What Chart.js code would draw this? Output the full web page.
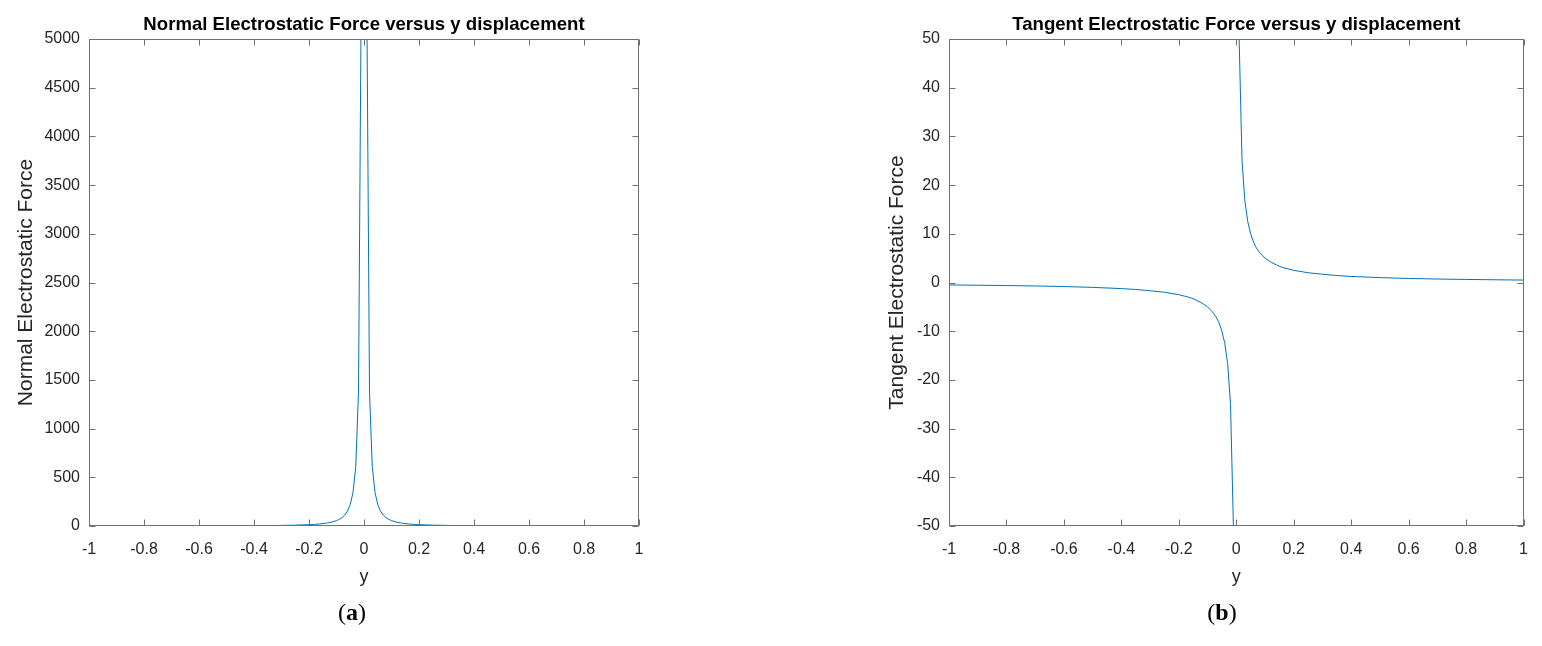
<!DOCTYPE html>
<html>
<head>
<meta charset="utf-8">
<script src="https://cdn.jsdelivr.net/npm/chart.js@4.4.1/dist/chart.umd.min.js"></script>
<style>
  body { margin: 0; background: #fff; width: 1542px; height: 646px; overflow: hidden; position: relative; }
  .box { position: absolute; top: 0; height: 600px; }
  .cap { position: absolute; top: 599px; font: 24px 'Liberation Serif', serif; color: #000; transform: translateX(-50%); }
</style>
</head>
<body>
<div class="box" style="left:0;width:700px"><canvas id="normal"></canvas></div>
<div class="box" style="left:860px;width:682px"><canvas id="tangent"></canvas></div>
<div class="cap" style="left:352px">(<b>a</b>)</div>
<div class="cap" style="left:1222px">(<b>b</b>)</div>
<script>
// y displacement samples (x axis of both plots)
var yDisp = [-1, -0.9, -0.8, -0.7, -0.6, -0.5, -0.4, -0.35, -0.3, -0.25, -0.2, -0.18, -0.16, -0.14, -0.12,
  -0.1, -0.09, -0.08, -0.07, -0.06, -0.05, -0.04, -0.03, -0.02, -0.01, 0,
  0.01, 0.02, 0.03, 0.04, 0.05, 0.06, 0.07, 0.08, 0.09, 0.1,
  0.12, 0.14, 0.16, 0.18, 0.2, 0.25, 0.3, 0.35, 0.4, 0.5, 0.6, 0.7, 0.8, 0.9, 1];

// (a) normal electrostatic force (null = off to infinity at 0)
var normalForce = [0.55, 0.68, 0.86, 1.1, 1.5, 2.2, 3.4, 4.5, 6.1, 8.8, 13.8, 17, 21.5, 28, 38,
  55, 68, 86, 112, 153, 220, 344, 611, 1375, 5500, null,
  5500, 1375, 611, 344, 220, 153, 112, 86, 68, 55,
  38, 28, 21.5, 17, 13.8, 8.8, 6.1, 4.5, 3.4, 2.2, 1.5, 1.1, 0.86, 0.68, 0.55];

// (b) tangent electrostatic force
var tangentForce = [-0.5, -0.56, -0.63, -0.71, -0.83, -1, -1.25, -1.43, -1.7, -2, -2.5, -2.8, -3.1, -3.6, -4.2,
  -5, -5.6, -6.25, -7.1, -8.3, -10, -12.5, -16.7, -25, -50, null,
  50, 25, 16.7, 12.5, 10, 8.3, 7.1, 6.25, 5.6, 5,
  4.2, 3.6, 3.1, 2.8, 2.5, 2, 1.7, 1.43, 1.25, 1, 0.83, 0.71, 0.63, 0.56, 0.5];

var xTicks = [-1, -0.8, -0.6, -0.4, -0.2, 0, 0.2, 0.4, 0.6, 0.8, 1];

const tickFont = { family: 'Liberation Sans', size: 16 };
const textColor = '#262626';

// MATLAB-like box with inward ticks on all four sides, plus a title over the plot area
const boxPlugin = {
  id: 'boxPlugin',
  afterDraw(chart, args, opts) {
    const ctx = chart.ctx, a = chart.chartArea;
    const l = Math.round(a.left) + 0.5, r = Math.round(a.right) - 0.5;
    const t = Math.round(a.top) + 0.5, b = Math.round(a.bottom) - 0.5;
    const sx = chart.scales.x, sy = chart.scales.y;
    ctx.save();
    ctx.strokeStyle = '#707070';
    ctx.lineWidth = 1;
    ctx.strokeRect(l, t, r - l, b - t);
    ctx.beginPath();
    sx.ticks.forEach(function(tk) {
      const px = Math.round(sx.getPixelForValue(tk.value)) + 0.5;
      ctx.moveTo(px, b); ctx.lineTo(px, b - 6);
      ctx.moveTo(px, t); ctx.lineTo(px, t + 6);
    });
    sy.ticks.forEach(function(tk) {
      const py = Math.round(sy.getPixelForValue(tk.value)) + 0.5;
      ctx.moveTo(l, py); ctx.lineTo(l + 6, py);
      ctx.moveTo(r, py); ctx.lineTo(r - 6, py);
    });
    ctx.stroke();
    ctx.fillStyle = '#000';
    ctx.font = 'bold 18.6px "Liberation Sans"';
    ctx.textAlign = 'center';
    ctx.textBaseline = 'alphabetic';
    ctx.fillText(opts.text, (a.left + a.right) / 2, a.top - 9);
    ctx.restore();
  }
};

function makeChart(id, values, yMin, yMax, yStep, yTitle, yTitlePad, rightPad, title) {
  const pts = yDisp.map(function(v, i) { return { x: v, y: values[i] }; });
  return new Chart(document.getElementById(id), {
    type: 'line',
    data: {
      datasets: [{
        data: pts,
        borderColor: '#0072BD',
        borderWidth: 1,
        pointRadius: 0,
        tension: 0,
        spanGaps: false
      }]
    },
    options: {
      responsive: true,
      maintainAspectRatio: false,
      animation: false,
      layout: { padding: { left: 0, top: 39, right: rightPad, bottom: 0 } },
      plugins: {
        legend: { display: false },
        tooltip: { enabled: false },
        boxPlugin: { text: title }
      },
      scales: {
        x: {
          type: 'linear',
          min: -1,
          max: 1,
          afterBuildTicks: function(s) { s.ticks = xTicks.map(function(v) { return { value: v }; }); },
          afterFit: function(s) { s.height = 74; },
          grid: { display: false, drawTicks: false },
          border: { display: false },
          ticks: {
            font: tickFont,
            color: textColor,
            padding: 14,
            maxRotation: 0,
            callback: function(v) { return String(Number(v.toFixed(1))); }
          },
          title: {
            display: true,
            text: 'y',
            font: { family: 'Liberation Sans', size: 18 },
            color: textColor,
            padding: { top: 0, bottom: 12 }
          }
        },
        y: {
          min: yMin,
          max: yMax,
          afterFit: function(s) { s.width = 89; },
          grid: { display: false, drawTicks: false },
          border: { display: false },
          ticks: {
            stepSize: yStep,
            font: tickFont,
            color: textColor,
            padding: 9,
            callback: function(v) { return String(Math.round(v)); }
          },
          title: {
            display: true,
            text: yTitle,
            font: { family: 'Liberation Sans', size: 21 },
            color: textColor,
            padding: { top: yTitlePad, bottom: 0 }
          }
        }
      }
    },
    plugins: [boxPlugin]
  });
}

makeChart('normal', normalForce, 0, 5000, 500, 'Normal Electrostatic Force', 14, 61,
  'Normal Electrostatic Force versus y displacement');
makeChart('tangent', tangentForce, -50, 50, 10, 'Tangent Electrostatic Force', 25, 17,
  'Tangent Electrostatic Force versus y displacement');
</script>
</body>
</html>
